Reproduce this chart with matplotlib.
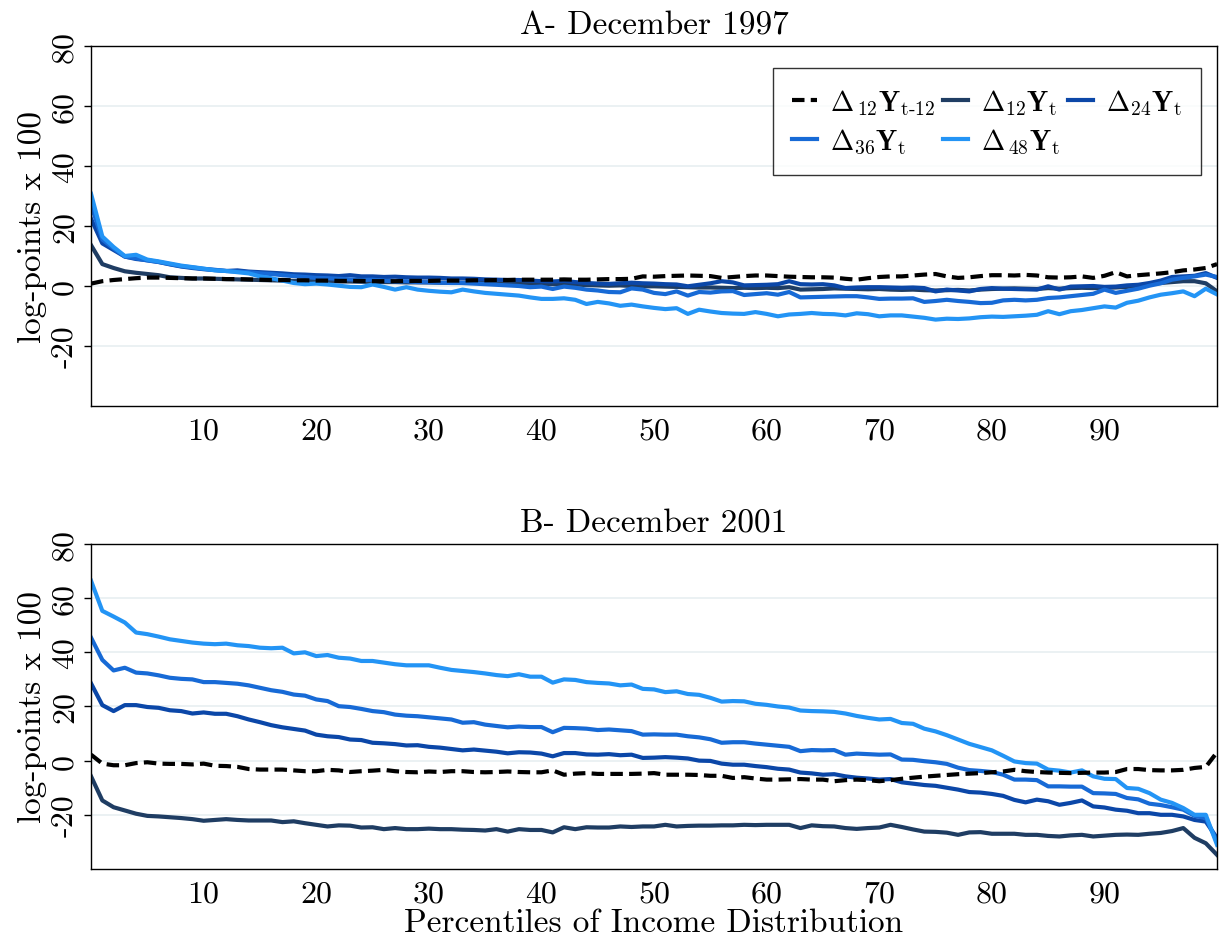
import matplotlib
matplotlib.use("Agg")
import matplotlib.pyplot as plt

plt.rcParams['font.family'] = 'serif'
plt.rcParams['font.serif'] = ['cmr10', 'DejaVu Serif']
plt.rcParams['mathtext.fontset'] = 'cm'
plt.rcParams['axes.unicode_minus'] = False
plt.rcParams['axes.formatter.use_mathtext'] = True

pctiles = list(range(0, 101))

# Panel A - December 1997
lag12_1997 = [0.8, 1.6, 2.0, 2.3, 2.6, 2.8, 2.8, 2.7, 2.6, 2.5,
              2.5, 2.4, 2.3, 2.3, 2.2, 2.1, 2.0, 2.0, 1.9, 1.9,
              1.8, 1.8, 1.7, 1.7, 1.7, 1.6, 1.6, 1.6, 1.7, 1.7,
              1.7, 1.8, 1.8, 1.8, 1.9, 1.9, 2.0, 2.0, 2.1, 2.1,
              2.1, 2.1, 2.2, 2.1, 2.1, 2.2, 2.3, 2.3, 2.4, 3.2,
              3.1, 3.3, 3.4, 3.5, 3.4, 3.3, 2.7, 3.0, 3.3, 3.5,
              3.5, 3.3, 3.1, 3.0, 2.9, 2.9, 2.8, 2.4, 2.1, 2.6,
              3.0, 3.2, 3.2, 3.5, 3.8, 4.0, 3.2, 2.7, 2.9, 3.3,
              3.6, 3.6, 3.5, 3.7, 3.5, 2.9, 2.8, 2.9, 3.2, 2.7,
              3.4, 4.6, 3.2, 3.6, 3.9, 4.2, 4.6, 5.2, 5.5, 6.0,
              7.3]
d12_1997 = [13.6, 7.3, 6.0, 4.9, 4.4, 4.0, 3.6, 2.9, 2.7, 2.5,
            2.5, 2.4, 2.3, 2.2, 2.1, 2.0, 1.9, 1.8, 1.7, 1.7,
            1.6, 1.6, 1.5, 1.5, 1.4, 1.4, 1.3, 1.3, 1.2, 1.2,
            1.2, 1.1, 1.1, 1.0, 1.0, 1.0, 0.9, 0.9, 0.8, 0.8,
            0.7, 0.6, 0.5, 0.5, 0.3, 0.2, 0.1, 0.2, 0.0, -0.1,
            -0.1, -0.2, -0.3, -0.4, -0.5, -0.5, -0.6, -0.7, -0.6, -0.7,
            -0.6, -0.7, -0.4, -1.2, -1.1, -1.0, -0.8, -0.9, -1.0, -1.1,
            -1.0, -1.2, -1.3, -1.2, -1.4, -1.5, -1.4, -1.3, -1.5, -1.2,
            -1.0, -0.9, -0.8, -0.9, -1.0, -0.7, -0.9, -0.7, -0.6, -0.7,
            -0.6, -0.5, -0.3, 0.2, 0.6, 1.0, 1.3, 1.6, 1.6, 0.9,
            -1.8]
d24_1997 = [22.4, 14.2, 12.0, 9.8, 9.0, 8.6, 8.0, 7.2, 6.5, 6.0,
            5.6, 5.3, 5.0, 5.2, 4.8, 4.6, 4.4, 4.2, 3.9, 3.8,
            3.6, 3.5, 3.3, 3.6, 3.2, 3.2, 3.0, 3.1, 2.9, 2.8,
            2.8, 2.7, 2.5, 2.5, 2.4, 2.2, 2.1, 2.0, 2.0, 1.8,
            1.6, 1.5, 1.7, 1.3, 1.0, 0.8, 0.7, 0.9, 1.1, 0.9,
            0.8, 0.6, 0.5, -0.1, 0.4, 0.9, 1.6, 1.2, 0.2, 0.3,
            0.4, 0.6, 1.6, 0.6, 0.5, 0.6, 0.2, -0.7, -0.5, -0.4,
            -0.4, -0.5, -0.6, -0.5, -0.7, -1.8, -1.2, -1.5, -1.8, -1.0,
            -0.7, -0.9, -1.0, -1.1, -1.2, -0.1, -1.2, -0.2, -0.1, 0.0,
            -0.3, -0.2, 0.2, 0.4, 1.0, 1.8, 3.0, 3.2, 3.4, 4.3,
            2.7]
d36_1997 = [27.0, 15.5, 12.5, 9.8, 9.2, 8.5, 8.0, 7.3, 6.6, 6.2,
            5.7, 5.4, 5.0, 4.8, 4.6, 4.2, 4.0, 3.6, 3.3, 3.0,
            2.7, 2.6, 2.4, 2.2, 2.0, 2.1, 1.8, 1.5, 1.6, 1.3,
            1.2, 1.1, 1.0, 1.0, 0.8, 0.6, 0.4, 0.2, 0.0, -0.4,
            -0.2, -1.0, -0.2, -0.6, -1.2, -1.5, -2.0, -2.1, -0.8, -1.2,
            -2.3, -2.7, -1.8, -3.2, -2.0, -2.2, -1.8, -1.7, -3.0, -2.7,
            -2.4, -2.9, -2.0, -3.8, -3.7, -3.6, -3.5, -3.4, -3.4, -3.8,
            -4.3, -4.2, -4.2, -4.1, -5.3, -5.0, -4.6, -5.0, -5.3, -5.7,
            -5.6, -4.8, -4.6, -4.8, -4.6, -4.0, -3.8, -3.4, -3.0, -2.6,
            -1.2, -2.3, -1.6, -0.9, 0.1, 0.9, 2.1, 2.7, 3.2, 3.8,
            3.0]
d48_1997 = [30.7, 16.5, 13.0, 10.0, 10.4, 8.8, 8.2, 7.5, 6.8, 6.3,
            5.8, 5.2, 5.0, 4.6, 4.2, 3.2, 2.6, 1.8, 1.0, 0.6,
            0.8, 0.5, 0.1, -0.3, -0.4, 0.5, -0.3, -1.2, -0.4, -1.2,
            -1.6, -1.9, -2.1, -1.2, -1.8, -2.3, -2.6, -2.9, -3.2, -3.8,
            -4.3, -4.3, -4.1, -4.6, -6.0, -5.3, -5.8, -6.6, -6.2, -6.8,
            -7.3, -7.7, -7.4, -9.3, -7.9, -8.5, -9.0, -9.2, -9.3, -8.7,
            -9.3, -10.1, -9.5, -9.3, -9.0, -9.3, -9.4, -9.8, -9.1, -9.4,
            -10.1, -9.8, -9.8, -10.2, -10.6, -11.2, -10.9, -11.0, -10.8, -10.4,
            -10.2, -10.3, -10.1, -9.9, -9.6, -8.4, -9.4, -8.4, -8.0, -7.4,
            -6.8, -7.2, -5.6, -4.9, -3.8, -2.9, -2.4, -1.8, -3.4, -0.9,
            -2.8]

# Panel B - December 2001
lag12_2001 = [2.2, -1.1, -1.7, -1.7, -0.9, -0.6, -1.1, -1.2, -1.2, -1.4,
              -1.1, -1.9, -2.0, -2.3, -3.1, -3.3, -3.3, -3.3, -3.6, -3.9,
              -3.9, -3.4, -3.6, -4.2, -3.9, -3.7, -3.4, -3.9, -4.2, -4.3,
              -4.0, -4.2, -3.9, -3.9, -4.2, -4.3, -4.2, -4.0, -4.2, -4.3,
              -4.3, -3.6, -5.2, -4.8, -4.6, -4.9, -4.9, -4.9, -4.9, -4.8,
              -4.6, -5.2, -5.2, -5.2, -5.3, -5.6, -5.6, -6.4, -6.1, -6.6,
              -7.0, -7.0, -6.9, -6.8, -7.0, -7.0, -7.6, -7.2, -7.0, -7.2,
              -7.6, -7.2, -6.7, -6.3, -5.9, -5.6, -5.3, -5.0, -4.8, -4.6,
              -4.3, -4.0, -3.4, -3.9, -4.2, -4.4, -4.5, -4.6, -4.5, -4.4,
              -4.4, -4.2, -3.1, -3.1, -3.5, -3.6, -3.6, -3.4, -2.7, -2.3,
              3.1]
d12_2001 = [-5.8, -14.7, -17.2, -18.4, -19.6, -20.4, -20.6, -20.9, -21.2, -21.6,
            -22.2, -21.9, -21.6, -21.9, -22.1, -22.1, -22.1, -22.7, -22.4, -23.1,
            -23.7, -24.3, -23.9, -24.0, -24.7, -24.6, -25.3, -24.9, -25.3, -25.3,
            -25.1, -25.3, -25.3, -25.5, -25.6, -25.8, -25.3, -26.2, -25.3, -25.6,
            -25.6, -26.5, -24.6, -25.3, -24.6, -24.7, -24.7, -24.3, -24.5, -24.3,
            -24.3, -23.7, -24.3, -24.1, -24.0, -24.0, -23.9, -23.9, -23.7, -23.8,
            -23.7, -23.7, -23.7, -24.9, -23.9, -24.2, -24.3, -24.9, -25.2, -24.9,
            -24.7, -23.7, -24.5, -25.4, -26.2, -26.3, -26.6, -27.4, -26.5, -26.4,
            -27.0, -27.0, -27.0, -27.4, -27.4, -27.8, -28.0, -27.6, -27.4, -28.0,
            -27.7, -27.4, -27.3, -27.4, -27.0, -26.7, -26.0, -24.9, -28.5, -30.5,
            -34.8]
d24_2001 = [28.5, 20.5, 18.3, 20.5, 20.5, 19.8, 19.5, 18.6, 18.3, 17.4,
            17.8, 17.3, 17.3, 16.4, 15.2, 14.2, 13.1, 12.3, 11.7, 11.1,
            9.6, 9.0, 8.7, 7.8, 7.6, 6.6, 6.4, 6.1, 5.6, 5.7,
            5.1, 4.8, 4.3, 3.8, 4.1, 3.7, 3.3, 2.7, 3.1, 3.0,
            2.6, 1.6, 2.8, 2.8, 2.3, 2.2, 2.4, 2.0, 2.2, 1.0,
            1.1, 1.3, 1.1, 0.8, 0.0, -0.1, -1.1, -1.5, -1.5, -2.0,
            -2.4, -3.0, -3.3, -4.4, -4.7, -5.2, -5.0, -5.8, -6.3, -6.6,
            -7.0, -6.8, -8.0, -8.5, -9.0, -9.3, -10.0, -10.7, -11.6, -11.8,
            -12.3, -13.0, -14.5, -15.4, -14.4, -15.0, -16.3, -15.6, -14.7, -16.9,
            -17.3, -18.1, -18.5, -19.4, -19.4, -20.0, -20.0, -20.6, -21.9, -22.5,
            -28.6]
d36_2001 = [45.4, 37.2, 33.3, 34.3, 32.5, 32.2, 31.5, 30.6, 30.2, 30.0,
            29.0, 29.0, 28.7, 28.4, 27.8, 26.9, 26.0, 25.4, 24.4, 24.0,
            22.6, 22.0, 20.1, 19.8, 19.1, 18.3, 17.9, 17.0, 16.6, 16.4,
            16.0, 15.6, 15.2, 14.0, 14.2, 13.3, 12.8, 12.3, 12.6, 12.4,
            12.4, 10.5, 12.1, 12.0, 11.8, 11.3, 11.5, 11.2, 10.9, 9.6,
            9.7, 9.6, 9.6, 9.0, 8.6, 7.9, 6.6, 6.8, 6.8, 6.3,
            5.9, 5.5, 5.1, 3.5, 3.9, 3.8, 3.9, 2.2, 2.6, 2.4,
            2.2, 2.3, 0.4, 0.3, -0.2, -0.6, -1.2, -2.6, -3.5, -3.8,
            -4.2, -5.2, -7.0, -7.0, -7.2, -9.5, -9.5, -9.6, -9.6, -12.0,
            -12.1, -12.3, -13.8, -14.3, -15.9, -16.4, -17.2, -18.1, -20.4, -21.2,
            -29.9]
d48_2001 = [66.4, 55.3, 53.2, 51.0, 47.3, 46.7, 45.8, 44.8, 44.2, 43.6,
            43.2, 43.0, 43.2, 42.6, 42.3, 41.7, 41.5, 41.7, 39.6, 40.0,
            38.6, 39.0, 38.0, 37.7, 36.8, 36.8, 36.2, 35.6, 35.2, 35.2,
            35.2, 34.3, 33.5, 33.1, 32.7, 32.2, 31.6, 31.2, 31.9, 31.0,
            31.0, 28.8, 30.0, 29.8, 29.0, 28.7, 28.5, 27.8, 28.1, 26.5,
            26.3, 25.3, 25.6, 24.6, 24.3, 23.2, 21.8, 22.0, 21.9, 21.0,
            20.6, 20.0, 19.6, 18.5, 18.3, 18.2, 18.0, 17.4, 16.5, 15.8,
            15.2, 15.4, 13.9, 13.6, 11.8, 10.8, 9.4, 7.8, 6.2, 5.0,
            3.8, 1.8, -0.3, -0.9, -1.1, -3.3, -3.7, -4.4, -3.6, -5.8,
            -6.7, -6.8, -10.1, -10.4, -12.0, -14.4, -15.6, -17.5, -20.0, -20.0,
            -31.1]

labels = [r'$\Delta_{\,12}\mathbf{Y}_{\mathrm{t\text{-}12}}$',
          r'$\Delta_{12}\mathbf{Y}_{\mathrm{t}}$',
          r'$\Delta_{24}\mathbf{Y}_{\mathrm{t}}$',
          r'$\Delta_{36}\mathbf{Y}_{\mathrm{t}}$',
          r'$\Delta_{\,48}\mathbf{Y}_{\mathrm{t}}$']
colors = ['black', '#1f3d63', '#0b47a8', '#176ad6', '#2394f5']

panels = [
    ('A- December 1997', [lag12_1997, d12_1997, d24_1997, d36_1997, d48_1997]),
    ('B- December 2001', [lag12_2001, d12_2001, d24_2001, d36_2001, d48_2001]),
]

fig = plt.figure(figsize=(12.19, 9.45), dpi=100)
ax_top = fig.add_axes([0.0747, 0.5693, 0.9237, 0.381])
ax_bot = fig.add_axes([0.0747, 0.0794, 0.9237, 0.3439])

fs = 24
tfs = 23
for ax, (title, series) in zip([ax_top, ax_bot], panels):
    handles = []
    for i, vals in enumerate(series):
        if i == 0:
            h, = ax.plot(pctiles, vals, color=colors[i], lw=3.0,
                         ls=(0, (3.0, 1.5)), label=labels[i], zorder=3)
        else:
            h, = ax.plot(pctiles, vals, color=colors[i], lw=3.0,
                         label=labels[i], zorder=2)
        handles.append(h)
    ax.set_xlim(0, 100)
    ax.set_ylim(-40, 80)
    ax.set_yticks([-20, 0, 20, 40, 60, 80])
    ax.set_yticklabels(['-20', '0', '20', '40', '60', '80'], rotation=90,
                       va='center', fontsize=tfs)
    ax.set_xticks(range(10, 100, 10))
    ax.set_xticklabels([str(v) for v in range(10, 100, 10)], fontsize=tfs)
    ax.tick_params(axis='x', length=0, pad=8)
    ax.tick_params(axis='y', length=5, width=1, pad=4)
    ax.grid(axis='y', color='#e8eff1', lw=1.2)
    ax.set_axisbelow(True)
    for sp in ax.spines.values():
        sp.set_linewidth(1.0)
        sp.set_color('black')
    ax.set_title(title, fontsize=fs, pad=9)
    ax.set_ylabel('log-points x 100', fontsize=fs, labelpad=3)
    if ax is ax_top:
        # legend fills column-wise, so reorder to get row-wise reading
        order = [0, 3, 1, 4, 2]
        leg = ax.legend([handles[k] for k in order], [labels[k] for k in order],
                        loc='upper right', ncol=3, fontsize=20, frameon=True,
                        fancybox=False, edgecolor='black', handlelength=0.9,
                        handletextpad=0.45, columnspacing=0.3, borderpad=0.7,
                        labelspacing=0.35, bbox_to_anchor=(0.9985, 0.978))
        leg.get_frame().set_linewidth(1.0)

ax_bot.set_xlabel('Percentiles of Income Distribution', fontsize=fs, labelpad=0)

fig.savefig('out.png', dpi=100)
